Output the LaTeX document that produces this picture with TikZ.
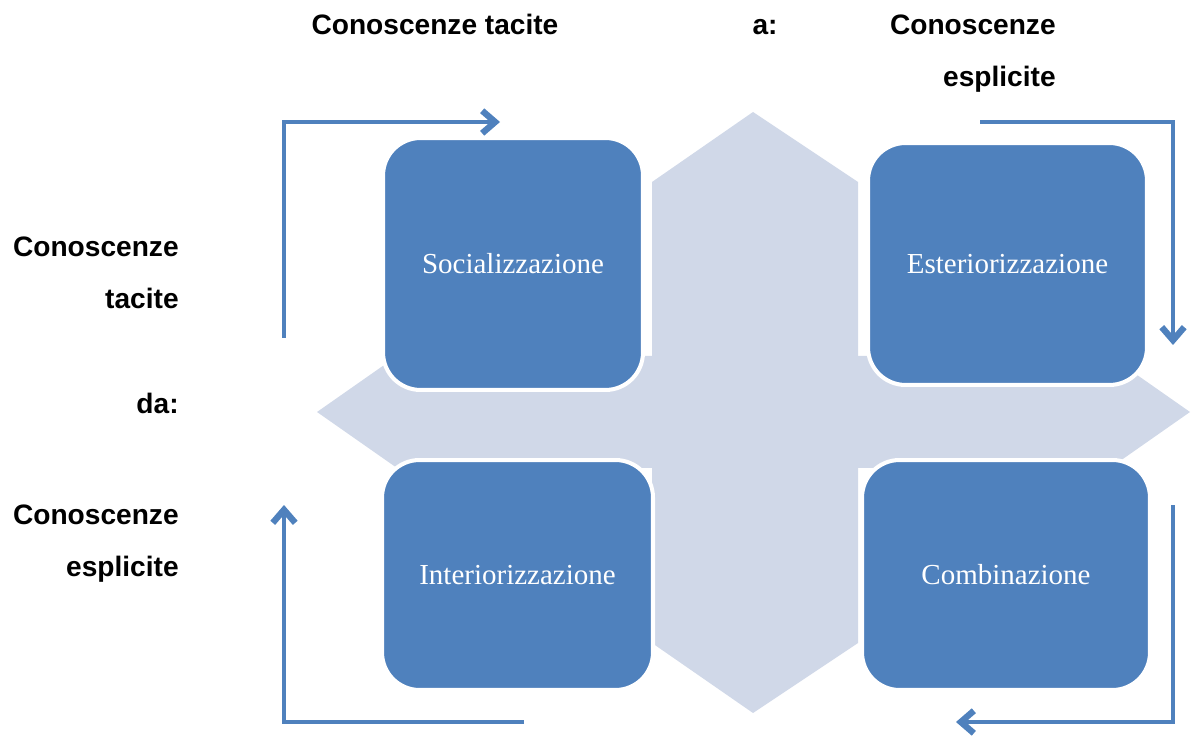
\documentclass[tikz,border=0pt]{standalone}
\usepackage{fontspec}
\setmainfont{Liberation Serif}
\setsansfont{Liberation Sans}
\usetikzlibrary{arrows.meta}
\definecolor{boxblue}{HTML}{4F81BD}
\definecolor{crossgrey}{HTML}{D0D8E8}

\begin{document}
\begin{tikzpicture}[x=0.02cm, y=-0.02cm,
  quadrant/.style={draw=white, line width=2.3pt, fill=boxblue, rounded corners=0.75cm, text=white, font=\fontsize{16.5}{19}\selectfont},
  heading/.style={font=\sffamily\bfseries\fontsize{16}{19}\selectfont, inner sep=0pt},
  flow/.style={draw=boxblue, line width=2.8pt, -{Straight Barb[length=0.26cm, width=0.45cm, line width=3.6pt]}}]
\useasboundingbox (0,0) rectangle (1197,736);

% cross behind the four steps
\fill[crossgrey] (753,112) -- (858,182) -- (858,643) -- (753,713) -- (652,643) -- (652,182) -- cycle;
\fill[crossgrey] (317,412) -- (397,356) -- (1110,356) -- (1190,412) -- (1110,468) -- (397,468) -- cycle;

\node[quadrant, minimum width=5.2cm, minimum height=5.04cm] (soc) at (513,264) {Socializzazione};
\node[quadrant, minimum width=5.58cm, minimum height=4.84cm] (est) at (1007.5,264) {Esteriorizzazione};
\node[quadrant, minimum width=5.42cm, minimum height=4.6cm] (int) at (517.5,575) {Interiorizzazione};
\node[quadrant, minimum width=5.76cm, minimum height=4.6cm] (comb) at (1006,575) {Combinazione};

% cycle arrows
\coordinate (socstart) at (284,338);
\coordinate (socend) at (500,122);
\coordinate (eststart) at (980,122);
\coordinate (estend) at (1173,345);
\coordinate (combstart) at (1173,505);
\coordinate (combend) at (956,722);
\coordinate (intstart) at (524,722);
\coordinate (intend) at (284,505);
\draw[flow] (socstart) |- (socend);
\draw[flow] (eststart) -| (estend);
\draw[flow] (combstart) |- (combend);
\draw[flow] (intstart) -| (intend);

% headings
\node[heading, anchor=base] (totacit) at (435,35) {Conoscenze tacite};
\node[heading, anchor=base] (to) at (765,35) {a:};
\node[heading, anchor=base east] (toexpl1) at (1056,35) {Conoscenze};
\node[heading, anchor=base east] (toexpl2) at (1056,87) {esplicite};
\node[heading, anchor=base east] (fromtacit1) at (179,257) {Conoscenze};
\node[heading, anchor=base east] (fromtacit2) at (179,309) {tacite};
\node[heading, anchor=base east] (from) at (179,414) {da:};
\node[heading, anchor=base east] (fromexpl1) at (179,524) {Conoscenze};
\node[heading, anchor=base east] (fromexpl2) at (179,576) {esplicite};
\end{tikzpicture}
\end{document}
